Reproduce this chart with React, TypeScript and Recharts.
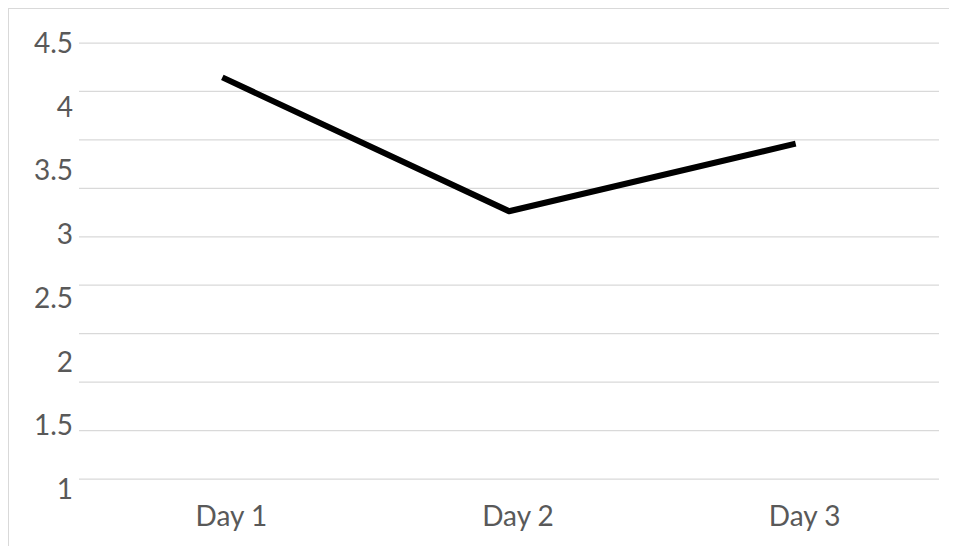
import { CartesianGrid, Line, LineChart, XAxis, YAxis } from "recharts"

const days = ["Day 1", "Day 2", "Day 3"]
const values = [4.23, 3.18, 3.71]
const yTicks = [1, 1.5, 2, 2.5, 3, 3.5, 4, 4.5]
// the reference draws 10 evenly spaced grid lines, independent of the labels
const gridSteps = [0, 1, 2, 3, 4, 5, 6, 7, 8, 9]

const data = days.map((day, i) => ({ day, value: values[i] }))

const tickStyle = { fill: "#595959", fontSize: 28, fontFamily: "Lato" }

const gridRows = ({ offset, height }: any) => {
  const top = offset.top
  const h = (offset.height ?? height - offset.top - offset.bottom) - 10
  const last = gridSteps[gridSteps.length - 1]
  return gridSteps.map((s) => top + (h * s) / last)
}

export default function App() {
  return (
    <div
      style={{
        width: 948,
        height: 537,
        borderLeft: "1px solid #d9d9d9",
        borderTop: "1px solid #d9d9d9",
        background: "#fff",
      }}
    >
      <LineChart width={948} height={537} data={data} margin={{ top: 34, right: 18, bottom: 17, left: 0 }}>
        <CartesianGrid
          vertical={false}
          stroke="#d9d9d9"
          strokeWidth={1.25}
          horizontalCoordinatesGenerator={gridRows}
        />
        <XAxis
          dataKey="day"
          scale="band"
          axisLine={false}
          tickLine={false}
          tickSize={0}
          tickMargin={17}
          height={40}
          tick={{ ...tickStyle, dx: 9 }}
        />
        <YAxis
          type="number"
          domain={[1, 4.5]}
          ticks={yTicks}
          interval={0}
          axisLine={false}
          tickLine={false}
          tickSize={0}
          tickMargin={6}
          width={70}
          tick={tickStyle}
        />
        <Line
          type="linear"
          dataKey="value"
          stroke="#000"
          strokeWidth={6}
          strokeLinejoin="round"
          dot={false}
          activeDot={false}
          isAnimationActive={false}
        />
      </LineChart>
    </div>
  )
}
